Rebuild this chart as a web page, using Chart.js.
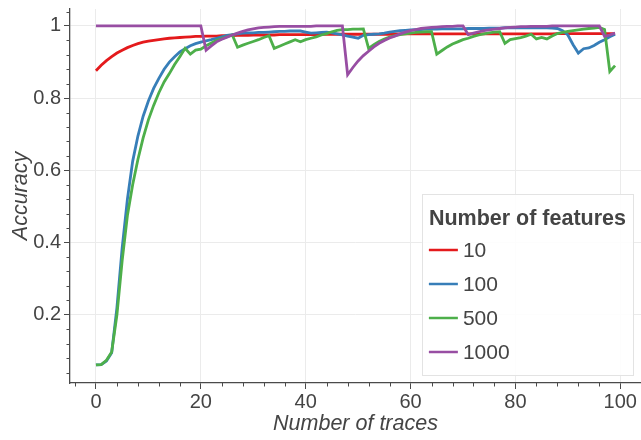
<!DOCTYPE html>
<html>
<head>
<meta charset="utf-8">
<script src="https://cdn.jsdelivr.net/npm/chart.js@4.4.1/dist/chart.umd.min.js"></script>
<style>
  html, body { margin: 0; padding: 0; background: #fff; }
  #wrap { width: 641px; height: 440px; }
</style>
</head>
<body>
<div id="wrap"><canvas id="chart" width="641" height="440"></canvas></div>
<script>
// Number of traces on the x axis (0..99)
const traces = Array.from({ length: 100 }, (_, i) => i);

const featureLabels = ["10", "100", "500", "1000"];
const featureColors = ["#e41a1c", "#377eb8", "#4daf4a", "#984ea3"];

// accuracy, one value per trace count
const acc10 = [
  0.876, 0.891, 0.904, 0.915, 0.925, 0.933, 0.940, 0.946, 0.951, 0.955,
  0.958, 0.960, 0.962, 0.964, 0.966, 0.967, 0.968, 0.969, 0.970, 0.971,
  0.971, 0.972, 0.972, 0.972, 0.973, 0.973, 0.973, 0.974, 0.974, 0.974,
  0.975, 0.975, 0.975, 0.975, 0.975, 0.976, 0.976, 0.976, 0.976, 0.976,
  0.976, 0.976, 0.976, 0.977, 0.977, 0.977, 0.977, 0.977, 0.977, 0.977,
  0.977, 0.977, 0.977, 0.977, 0.977, 0.977, 0.977, 0.978, 0.978, 0.978,
  0.978, 0.978, 0.978, 0.978, 0.978, 0.978, 0.978, 0.978, 0.978, 0.978,
  0.978, 0.978, 0.978, 0.978, 0.978, 0.978, 0.978, 0.978, 0.978, 0.978,
  0.978, 0.978, 0.978, 0.978, 0.978, 0.978, 0.978, 0.978, 0.979, 0.979,
  0.979, 0.979, 0.979, 0.979, 0.979, 0.979, 0.979, 0.979, 0.979, 0.979
];
const acc100 = [
  0.061, 0.062, 0.072, 0.095, 0.220, 0.385, 0.520, 0.625, 0.695, 0.750,
  0.792, 0.827, 0.855, 0.880, 0.900, 0.915, 0.928, 0.937, 0.945, 0.951,
  0.955, 0.959, 0.962, 0.966, 0.970, 0.974, 0.976, 0.978, 0.980, 0.981,
  0.981, 0.982, 0.982, 0.983, 0.984, 0.985, 0.985, 0.986, 0.986, 0.986,
  0.983, 0.980, 0.981, 0.982, 0.983, 0.981, 0.978, 0.975, 0.972, 0.969,
  0.966, 0.974, 0.976, 0.977, 0.978, 0.980, 0.983, 0.985, 0.987, 0.988,
  0.989, 0.990, 0.990, 0.991, 0.991, 0.991, 0.992, 0.992, 0.992, 0.992,
  0.992, 0.993, 0.993, 0.993, 0.993, 0.994, 0.994, 0.994, 0.995, 0.995,
  0.995, 0.995, 0.995, 0.995, 0.995, 0.995, 0.995, 0.994, 0.993, 0.987,
  0.975, 0.948, 0.925, 0.937, 0.939, 0.946, 0.955, 0.962, 0.970, 0.977
];
const acc500 = [
  0.061, 0.062, 0.074, 0.097, 0.200, 0.350, 0.475, 0.560, 0.630, 0.690,
  0.740, 0.780, 0.815, 0.845, 0.868, 0.893, 0.915, 0.938, 0.922, 0.933,
  0.936, 0.945, 0.953, 0.960, 0.965, 0.970, 0.975, 0.941, 0.947, 0.952,
  0.957, 0.962, 0.968, 0.973, 0.938, 0.944, 0.950, 0.956, 0.962, 0.956,
  0.962, 0.966, 0.970, 0.975, 0.979, 0.984, 0.988, 0.990, 0.990, 0.991,
  0.991, 0.992, 0.938, 0.948, 0.957, 0.964, 0.969, 0.973, 0.976, 0.978,
  0.980, 0.982, 0.983, 0.984, 0.984, 0.922, 0.932, 0.942, 0.950, 0.956,
  0.962, 0.966, 0.971, 0.975, 0.978, 0.981, 0.983, 0.984, 0.952, 0.962,
  0.965, 0.968, 0.972, 0.977, 0.964, 0.968, 0.964, 0.972, 0.979, 0.982,
  0.985, 0.987, 0.989, 0.991, 0.993, 0.994, 0.996, 0.990, 0.874, 0.890
];
const acc1000 = [
  1.000, 1.000, 1.000, 1.000, 1.000, 1.000, 1.000, 1.000, 1.000, 1.000,
  1.000, 1.000, 1.000, 1.000, 1.000, 1.000, 1.000, 1.000, 1.000, 1.000,
  1.000, 0.933, 0.945, 0.956, 0.963, 0.969, 0.975, 0.980, 0.985, 0.989,
  0.992, 0.995, 0.996, 0.997, 0.998, 0.999, 0.999, 0.999, 0.999, 0.999,
  0.999, 0.999, 1.000, 1.000, 1.000, 1.000, 1.000, 1.000, 0.865, 0.885,
  0.903, 0.918, 0.930, 0.942, 0.952, 0.960, 0.967, 0.972, 0.978, 0.983,
  0.987, 0.990, 0.993, 0.995, 0.996, 0.997, 0.998, 0.999, 0.999, 1.000,
  1.000, 0.976, 0.980, 0.984, 0.987, 0.989, 0.991, 0.993, 0.995, 0.996,
  0.997, 0.998, 0.998, 0.999, 0.999, 0.999, 0.999, 1.000, 1.000, 1.000,
  1.000, 1.000, 1.000, 1.000, 1.000, 1.000, 1.000, 0.971, 0.975, 0.980
];
const series = [acc10, acc100, acc500, acc1000];

const xTickLabels = ["0", "20", "40", "60", "80", "100"];
const yTickLabels = ["0.2", "0.4", "0.6", "0.8", "1"];

const FONT = "'Liberation Sans', Arial, sans-serif";
const AXIS_COLOR = "#4a4a4a";
const TEXT_COLOR = "#444444";
const GRID_COLOR = "#ebebeb";

// small outward minor ticks, like the original plot
const minorTicks = {
  id: "minorTicks",
  afterDraw(chart) {
    const ctx = chart.ctx;
    const xs = chart.scales.x;
    const ys = chart.scales.y;
    ctx.save();
    ctx.strokeStyle = AXIS_COLOR;
    ctx.lineWidth = 1;
    ctx.beginPath();
    for (let k = Math.ceil(xs.min / 4); k * 4 <= xs.max; k++) {
      if (k % 5 === 0) continue;
      const px = Math.round(xs.getPixelForValue(k * 4)) + 0.5;
      ctx.moveTo(px, xs.top);
      ctx.lineTo(px, xs.top + 3.5);
    }
    for (let k = Math.ceil(ys.min / 0.04); k * 0.04 <= ys.max; k++) {
      if (k % 5 === 0) continue;
      const py = Math.round(ys.getPixelForValue(k * 0.04)) + 0.5;
      ctx.moveTo(ys.right, py);
      ctx.lineTo(ys.right - 3.5, py);
    }
    ctx.stroke();
    ctx.restore();
  }
};

// legend box in the lower right corner of the plot
const cornerLegend = {
  id: "cornerLegend",
  afterDraw(chart) {
    const ctx = chart.ctx;
    const area = chart.chartArea;
    const title = "Number of features";
    ctx.save();
    ctx.font = "bold 21.5px " + FONT;
    const titleW = ctx.measureText(title).width;
    const boxW = titleW + 14;
    const boxH = 181;
    const left = area.right - 8 - boxW;
    const top = area.bottom - 8 - boxH;
    ctx.fillStyle = "rgba(255,255,255,0.9)";
    ctx.fillRect(left, top, boxW, boxH);
    ctx.strokeStyle = "#e3e3e3";
    ctx.lineWidth = 1;
    ctx.strokeRect(Math.round(left) + 0.5, Math.round(top) + 0.5, Math.round(boxW), Math.round(boxH));
    ctx.fillStyle = TEXT_COLOR;
    ctx.textBaseline = "middle";
    ctx.textAlign = "left";
    ctx.fillText(title, left + 7, top + 25);
    ctx.font = "21px " + FONT;
    chart.data.datasets.forEach((ds, i) => {
      const y = top + 56 + i * 34;
      ctx.strokeStyle = ds.borderColor;
      ctx.lineWidth = 2.5;
      ctx.beginPath();
      ctx.moveTo(left + 7, y);
      ctx.lineTo(left + 36, y);
      ctx.stroke();
      ctx.fillStyle = TEXT_COLOR;
      ctx.fillText(ds.label, left + 41, y + 1);
    });
    ctx.restore();
  }
};

new Chart(document.getElementById("chart"), {
  type: "line",
  data: {
    datasets: series.map((vals, i) => ({
      label: featureLabels[i],
      data: vals.map((v, j) => ({ x: traces[j], y: v })),
      borderColor: featureColors[i],
      backgroundColor: featureColors[i],
      borderWidth: 2.8,
      pointRadius: 0,
      tension: 0,
      fill: false,
      order: 4 - i
    }))
  },
  options: {
    responsive: false,
    animation: false,
    layout: { padding: { top: 9, right: 0, left: 0, bottom: 0 } },
    plugins: {
      legend: { display: false },
      tooltip: { enabled: false }
    },
    scales: {
      x: {
        type: "linear",
        min: -4.95,
        max: 103.95,
        afterFit: (s) => { s.height = 57; s.paddingLeft = 0; s.paddingRight = 0; },
        border: { display: true, color: AXIS_COLOR, width: 1.3 },
        grid: { color: GRID_COLOR, lineWidth: 1, tickColor: AXIS_COLOR, tickLength: 6 },
        ticks: {
          stepSize: 20,
          includeBounds: false,
          maxRotation: 0,
          padding: 1,
          color: TEXT_COLOR,
          font: { family: FONT, size: 20 },
          callback: (v) => xTickLabels[Math.round(v / 20)] ?? ""
        },
        title: {
          display: true,
          text: "Number of traces",
          color: TEXT_COLOR,
          padding: 3,
          font: { family: FONT, size: 21.5, style: "italic" }
        }
      },
      y: {
        min: 0.011,
        max: 1.047,
        afterFit: (s) => { s.width = 70; s.paddingTop = 0; s.paddingBottom = 0; },
        border: { display: true, color: AXIS_COLOR, width: 1.3 },
        grid: { color: GRID_COLOR, lineWidth: 1, tickColor: AXIS_COLOR, tickLength: 6 },
        ticks: {
          stepSize: 0.2,
          includeBounds: false,
          padding: 3,
          color: TEXT_COLOR,
          font: { family: FONT, size: 20 },
          callback: (v) => yTickLabels[Math.round(v / 0.2) - 1] ?? ""
        },
        title: {
          display: true,
          text: "Accuracy",
          color: TEXT_COLOR,
          padding: 8,
          font: { family: FONT, size: 21.5, style: "italic" }
        }
      }
    }
  },
  plugins: [minorTicks, cornerLegend]
});
</script>
</body>
</html>
